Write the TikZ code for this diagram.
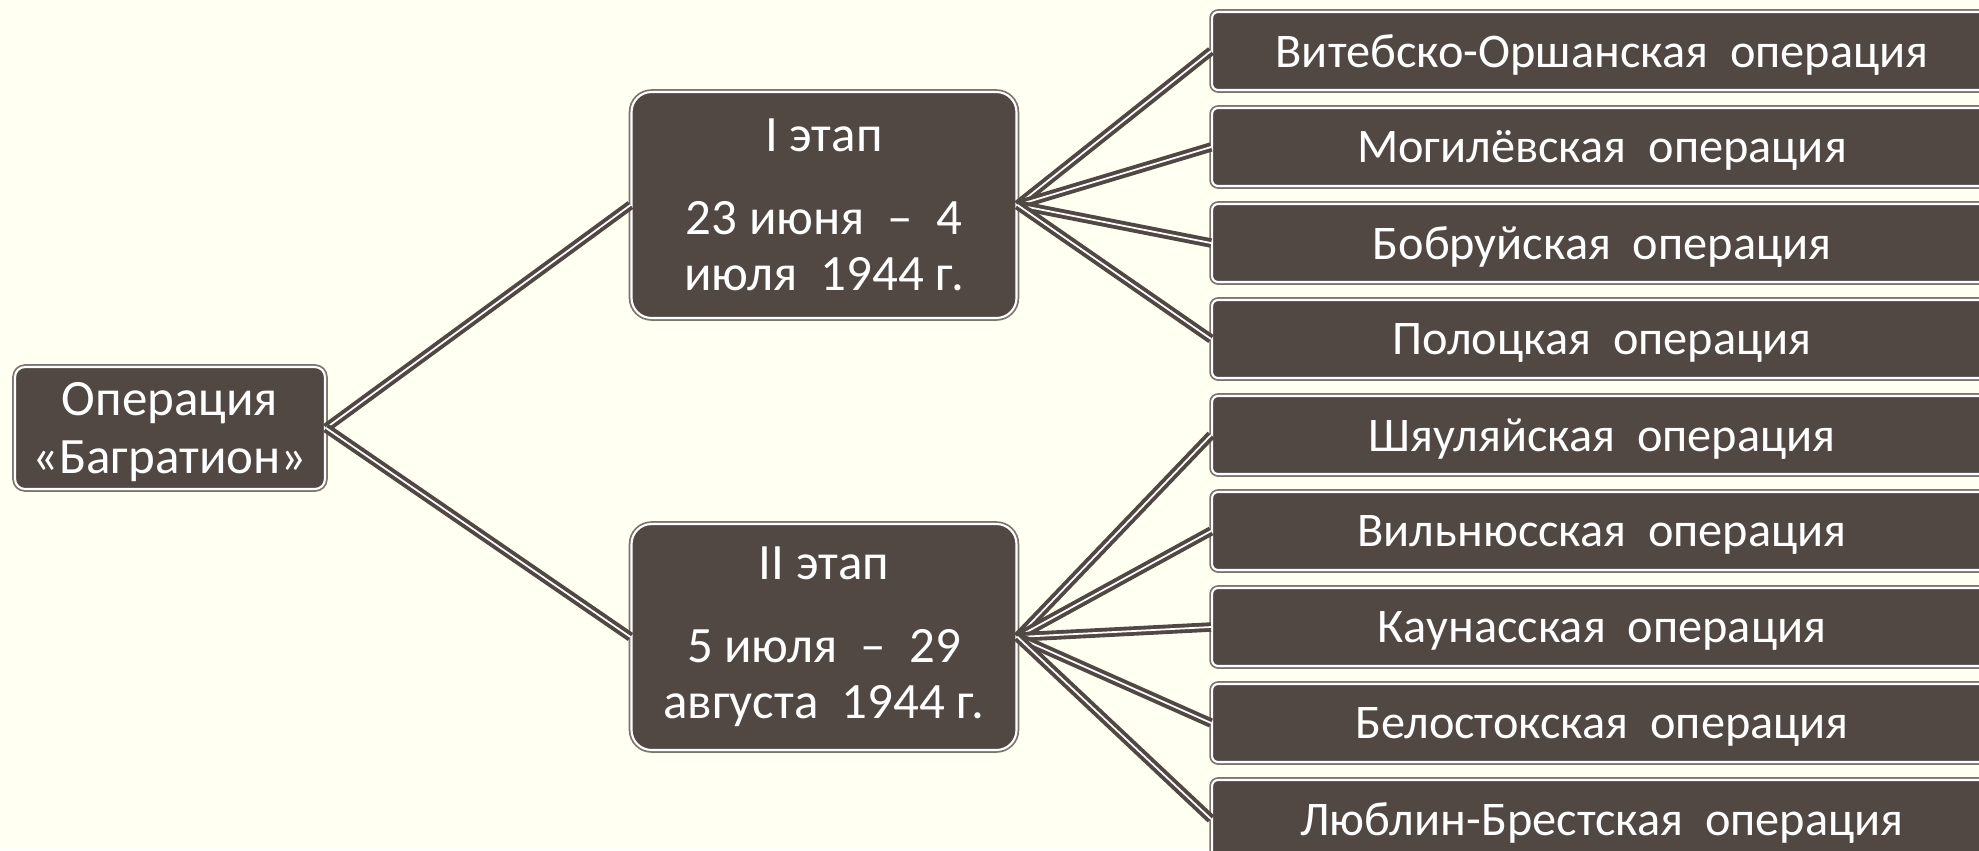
\documentclass[tikz,border=0pt]{standalone}
\usepackage{fontspec}
\setmainfont{Carlito}
\usetikzlibrary{positioning}
\definecolor{bgcream}{HTML}{FFFFF2}
\definecolor{boxfill}{HTML}{514843}
\definecolor{boxedge}{HTML}{7D736D}
\tikzset{
    card/.style={
        rectangle, fill=boxfill, draw=white, line width=1.2pt,
        preaction={draw=boxedge, line width=3.2pt},
        text=white, align=center, inner sep=0pt,
        font=\fontsize{27.5}{32}\selectfont
    },
    rootbox/.style={card, minimum width=6.2cm, minimum height=2.44cm, rounded corners=0.2cm,
        text depth=0pt, font=\fontsize{29}{33}\selectfont},
    stagebox/.style={card, minimum width=7.7cm, minimum height=4.52cm, rounded corners=0.4cm,
        font=\fontsize{29}{32}\selectfont},
    opbox/.style={card, minimum width=15.6cm, minimum height=1.56cm, rounded corners=0.12cm,
        text depth=0pt},
    link/.style={draw=boxfill, double=white, double distance=1pt, line width=2.2pt}
}

\begin{document}
\begin{tikzpicture}[x=0.02cm, y=-0.02cm]

% Background
\path[use as bounding box, fill=bgcream] (0,0) rectangle (1979,850);

% Operation and its two stages
\node[rootbox] (root) at (170,428) {Операция\\«Багратион»};
\node[stagebox] (st1) at (824,205) {I этап\\[15pt] 23 июня \ – \ 4\\июля \ 1944 г.};
\node[stagebox] (st2) at (824,637) {II этап\\[15pt] 5 июля \ – \ 29\\августа \ 1944 г.};

\draw[link] (root.east) -- (st1.west);
\draw[link] (root.east) -- (st2.west);

% Operations of stage I
\node[opbox] (op1) at (1602,51) {Витебско-Оршанская \ операция};
\node[opbox] (op2) at (1602,147) {Могилёвская \ операция};
\node[opbox] (op3) at (1602,243) {Бобруйская \ операция};
\node[opbox] (op4) at (1602,339) {Полоцкая \ операция};

\draw[link] (st1.east) -- (op1.west);
\draw[link] (st1.east) -- (op2.west);
\draw[link] (st1.east) -- (op3.west);
\draw[link] (st1.east) -- (op4.west);

% Operations of stage II
\node[opbox] (op5) at (1602,435) {Шяуляйская \ операция};
\node[opbox] (op6) at (1602,531) {Вильнюсская \ операция};
\node[opbox] (op7) at (1602,627) {Каунасская \ операция};
\node[opbox] (op8) at (1602,723) {Белостокская \ операция};
\node[opbox] (op9) at (1602,819) {Люблин-Брестская \ операция};

\draw[link] (st2.east) -- (op5.west);
\draw[link] (st2.east) -- (op6.west);
\draw[link] (st2.east) -- (op7.west);
\draw[link] (st2.east) -- (op8.west);
\draw[link] (st2.east) -- (op9.west);

\end{tikzpicture}
\end{document}
